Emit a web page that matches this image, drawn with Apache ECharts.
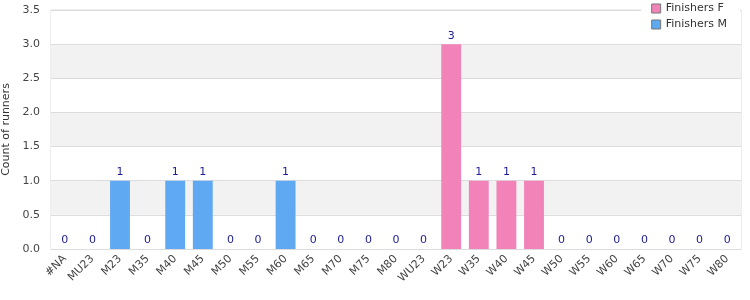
<!DOCTYPE html>
<html>
<head>
<meta charset="utf-8">
<script src="https://cdn.jsdelivr.net/npm/echarts@6/dist/echarts.min.js"></script>
<style>
  html, body { margin: 0; padding: 0; background: #fff; }
  #chart { width: 750px; height: 300px; }
</style>
</head>
<body>
<div id="chart"></div>
<script>
// categories and counts
var categories = ['#NA', 'MU23', 'M23', 'M35', 'M40', 'M45', 'M50', 'M55', 'M60', 'M65', 'M70', 'M75', 'M80',
  'WU23', 'W23', 'W35', 'W40', 'W45', 'W50', 'W55', 'W60', 'W65', 'W70', 'W75', 'W80'];
var finishersF = ['-', '-', '-', '-', '-', '-', '-', '-', '-', '-', '-', '-', '-',
  0, 3, 1, 1, 1, 0, 0, 0, 0, 0, 0, 0];
var finishersM = [0, 0, 1, 0, 1, 1, 0, 0, 1, 0, 0, 0, 0,
  '-', '-', '-', '-', '-', '-', '-', '-', '-', '-', '-', '-'];
var yTicks = [0, 3.5, 0.5];

var chart = echarts.init(document.getElementById('chart'));
var lbl = {
  show: true,
  position: 'top',
  color: '#1c1c96',
  fontSize: 11,
  fontFamily: 'DejaVu Sans',
  distance: 3
};
var option = {
  animation: false,
  textStyle: { fontFamily: 'DejaVu Sans' },
  grid: {
    left: 51, right: 9, top: 10, bottom: 51,
    outerBoundsMode: 'none',
    containLabel: false,
    show: true, borderColor: '#dcdcdc', borderWidth: 1
  },
  legend: {
    orient: 'vertical',
    right: 10, top: 1,
    icon: 'rect',
    itemWidth: 9, itemHeight: 9,
    itemGap: 5,
    padding: [2, 13, 2, 10],
    backgroundColor: '#fff',
    textStyle: { fontSize: 11, color: '#333', fontFamily: 'DejaVu Sans' },
    itemStyle: { borderColor: '#777', borderWidth: 1 },
    data: ['Finishers F', 'Finishers M']
  },
  xAxis: {
    type: 'category',
    data: categories,
    axisLine: { lineStyle: { color: '#dcdcdc' } },
    axisTick: { show: false },
    axisLabel: { rotate: 45, interval: 0, fontSize: 11, color: '#444', margin: 8 }
  },
  yAxis: {
    type: 'value',
    min: yTicks[0], max: yTicks[1], interval: yTicks[2],
    name: 'Count of runners',
    nameLocation: 'middle',
    nameGap: 38,
    nameTextStyle: { fontSize: 11, color: '#333' },
    axisLine: { show: false },
    axisTick: { show: false },
    axisLabel: { fontSize: 11, color: '#444', margin: 11, formatter: function (v) { return v.toFixed(1); } },
    splitLine: { lineStyle: { color: '#dcdcdc' } },
    splitArea: { show: true, areaStyle: { color: ['#ffffff', '#f2f2f2'] } }
  },
  series: [
    {
      name: 'Finishers F', type: 'bar', stack: 'all', barWidth: '72%',
      itemStyle: { color: '#f283b9' }, label: lbl, data: finishersF
    },
    {
      name: 'Finishers M', type: 'bar', stack: 'all', barWidth: '72%',
      itemStyle: { color: '#5fa8f2' }, label: lbl, data: finishersM
    }
  ]
};
chart.setOption(option);
</script>
</body>
</html>
